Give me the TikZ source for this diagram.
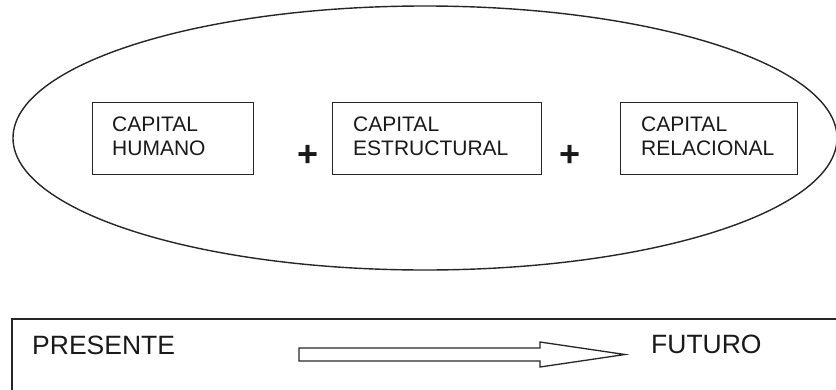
\documentclass[tikz,border=0pt]{standalone}
\usepackage{fontspec}
\setmainfont{Liberation Sans}
\usetikzlibrary{shapes.geometric}
\begin{document}
\begin{tikzpicture}[x=1pt,y=-1pt,
  outline/.style={draw=black!85,line width=1.4pt},
  capbox/.style={outline,rectangle,inner sep=0pt,anchor=north west},
  captext/.style={anchor=base west,inner sep=0pt,align=left,
    font=\fontsize{21}{23.3}\selectfont,text=black!90},
  timetext/.style={anchor=base west,inner sep=0pt,
    font=\fontsize{26.5}{30}\selectfont,text=black!90},
  plussign/.style={inner sep=0pt,font=\fontsize{36}{36}\selectfont\bfseries,text=black!90}
]
\useasboundingbox (0,0) rectangle (836,389);

% outer ellipse grouping the three kinds of capital
\node[outline,ellipse,inner sep=0pt,minimum width=824pt,minimum height=264pt] (whole) at (425,138) {};

% the three capital boxes
\node[capbox,minimum width=161pt,minimum height=72pt] (human) at (92,102) {};
\node[capbox,minimum width=209pt,minimum height=72pt] (struct) at (332,102) {};
\node[capbox,minimum width=177pt,minimum height=72pt] (relat) at (620,102) {};

% labels: the base anchor sits on the last line's baseline
\node[captext] (humanlbl) at (112,155) {CAPITAL\\HUMANO};
\node[captext] (structlbl) at (353,155) {CAPITAL\\ESTRUCTURAL};
\node[captext] (relatlbl) at (641,155) {CAPITAL\\RELACIONAL};

% plus signs between the boxes
\node[plussign] (plusA) at (308.5,155.5) {+};
\node[plussign] (plusB) at (570.5,155.5) {+};

% time frame at the bottom
\draw[outline] (12,400) -- (12,319) -- (850,319);
\node[timetext] (present) at (32,354) {PRESENTE};
\node[timetext] (future) at (651,353) {FUTURO};

% hollow block arrow from present towards future
\coordinate (tail) at (299,354.5);
\coordinate (tip) at (625,354.5);
\draw[draw=black!85,line width=1.3pt,line join=miter]
  (tail) ++(0,-6.5) -- ++(241,0) -- ++(0,-6) -- (tip)
  -- ++(-85,12.5) -- ++(0,-6) -- ++(-241,0) -- cycle;
\end{tikzpicture}
\end{document}
